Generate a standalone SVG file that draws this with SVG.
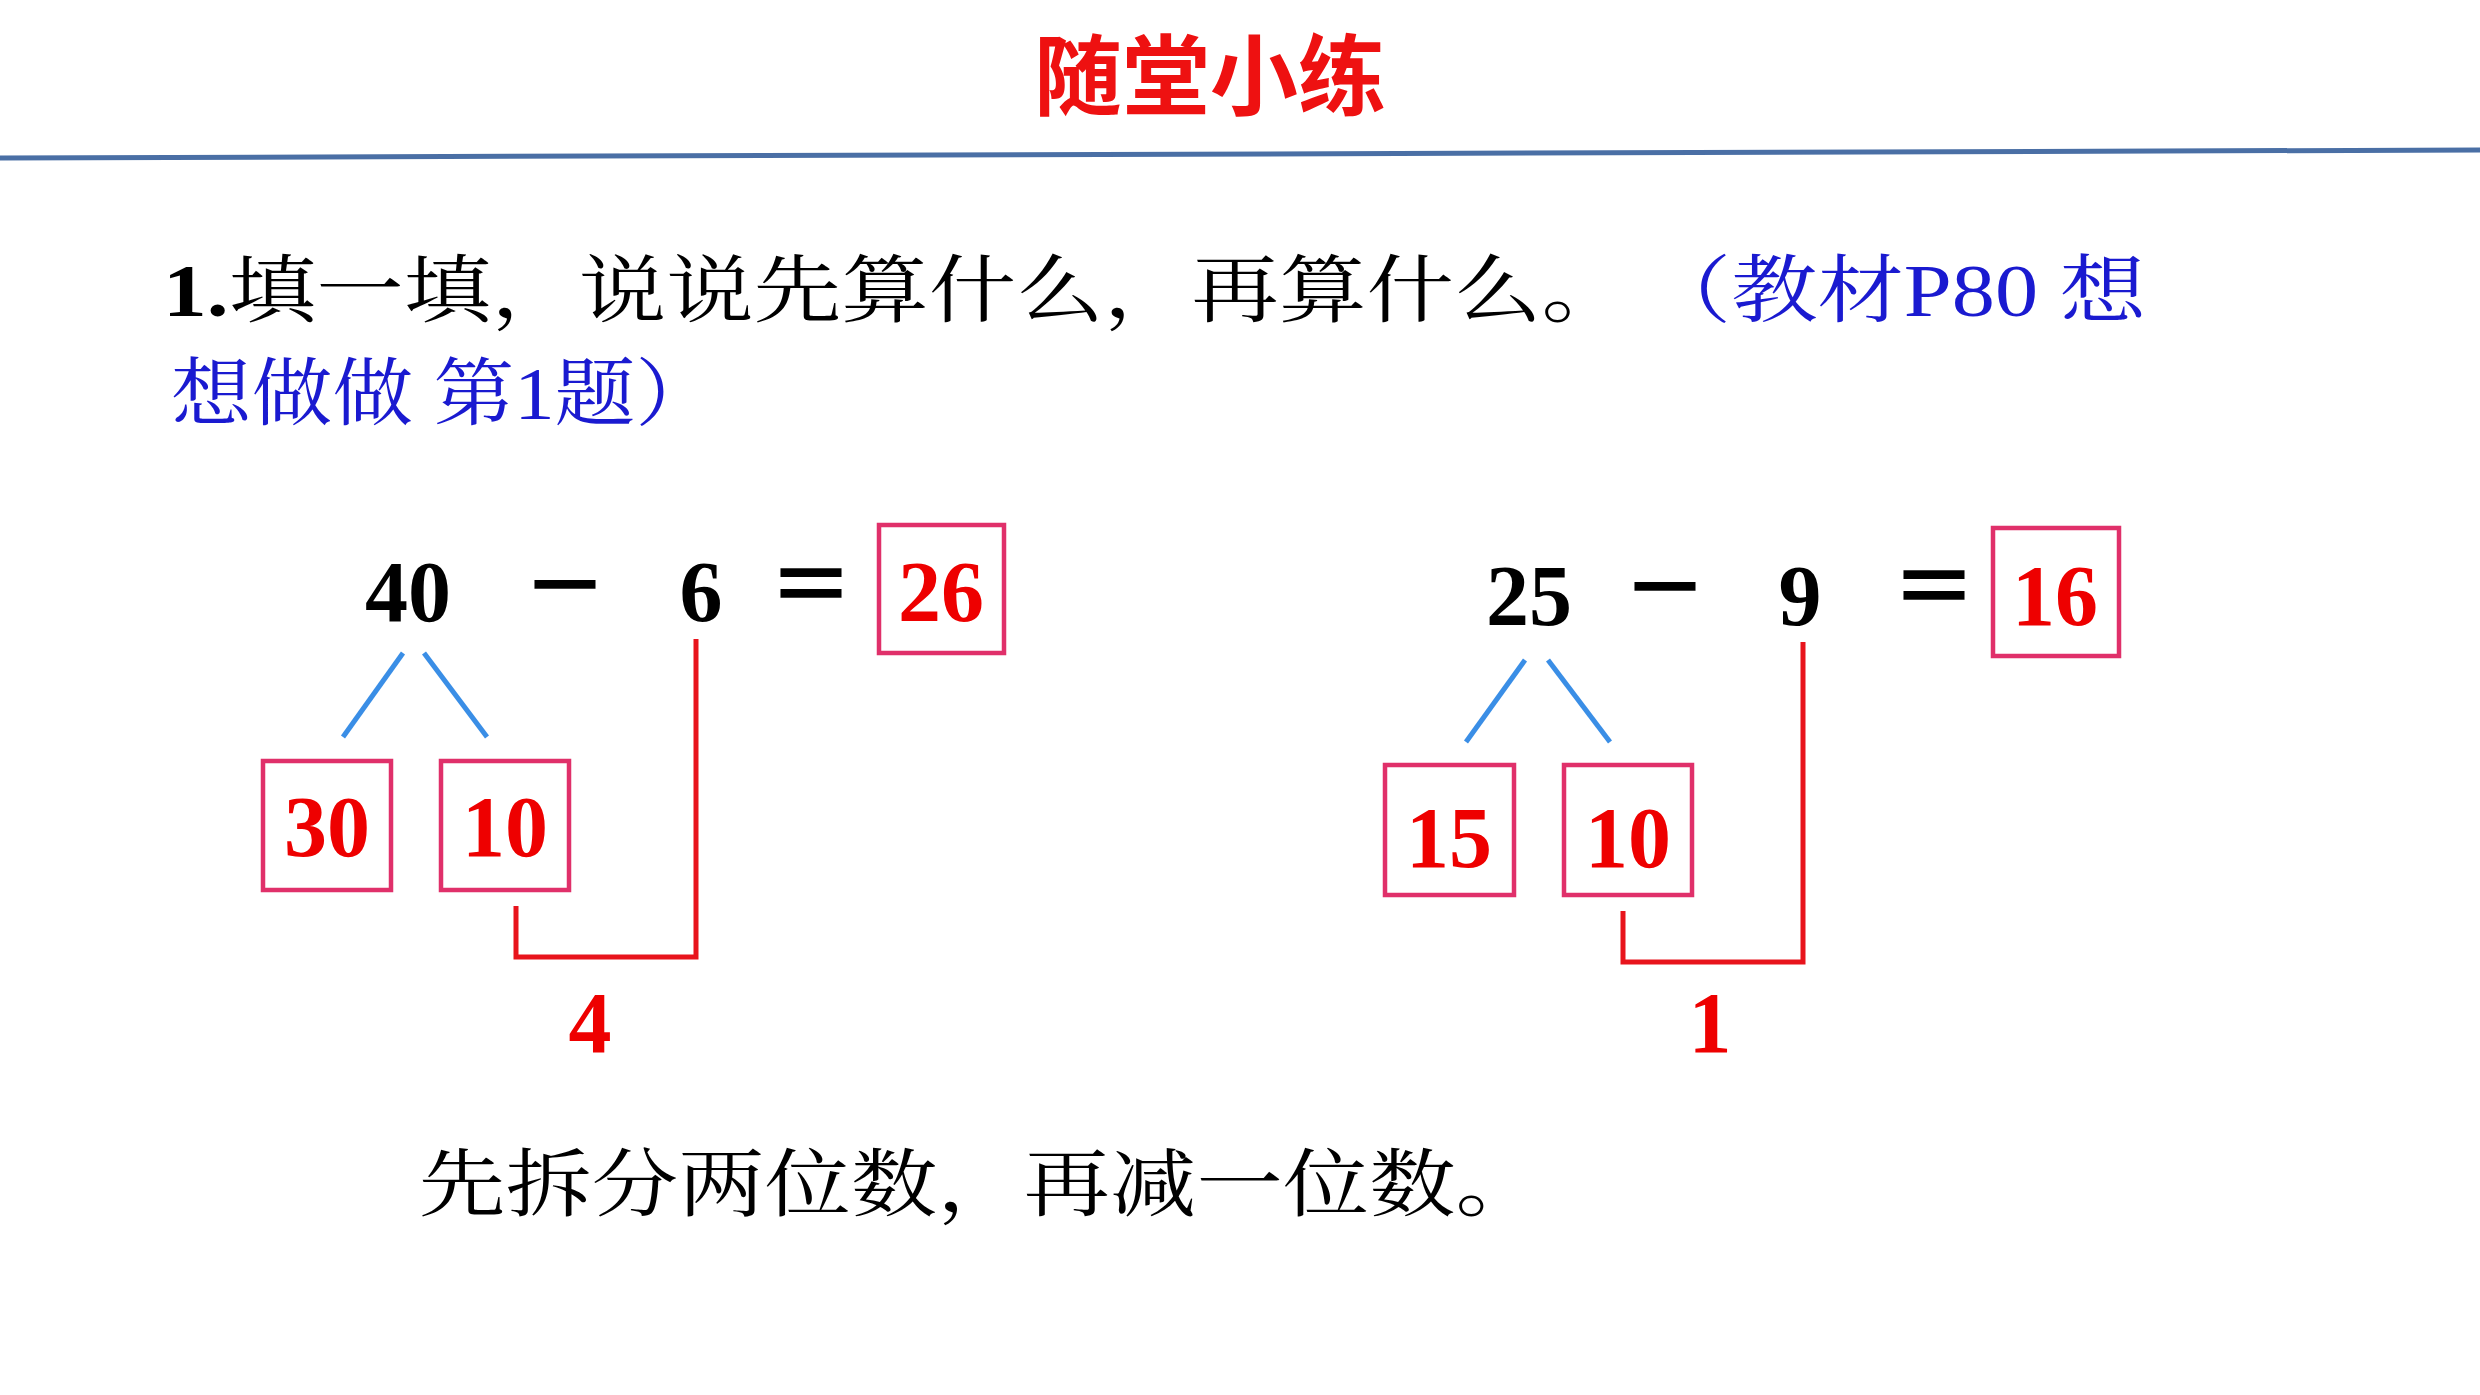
<svg xmlns="http://www.w3.org/2000/svg" width="2480" height="1395" viewBox="0 0 2480 1395">
<style>
.cn{font-family:"Liberation Serif","Noto Serif CJK SC","Noto Sans CJK SC",serif;font-size:74px}
.eq{font-family:"Liberation Serif","Noto Sans CJK SC",serif;font-size:86px;font-weight:bold;text-anchor:middle}
.ans{fill:#ee0000}
.box{fill:none;stroke:#e0306a;stroke-width:4.5}
.blue{stroke:#3a8ee6;stroke-width:5;fill:none}
.br{stroke:#e8141c;stroke-width:5;fill:none}
</style>
<rect width="2480" height="1395" fill="#fff"/>
<g id="title"><text x="1210" y="108" font-family="Noto Sans CJK SC,sans-serif" font-size="88" font-weight="bold" fill="#ee1111" text-anchor="middle">随堂小练</text>
<line x1="0" y1="158" x2="2480" y2="150" stroke="#4a6fa5" stroke-width="5"/></g>
<g id="question">
<text class="cn" x="163" y="316" textLength="1466" lengthAdjust="spacingAndGlyphs"><tspan font-weight="bold">1.</tspan>填一填，说说先算什么，再算什么。</text>
<text class="cn" x="1645" y="316" fill="#1a1ad0" textLength="501" lengthAdjust="spacingAndGlyphs">（教材P80 想</text>
<text class="cn" x="171" y="419" fill="#1a1ad0" textLength="545" lengthAdjust="spacingAndGlyphs">想做做 第1题）</text>
</g>
<g id="eq1">
<text class="eq" x="408" y="621">40</text>
<text class="eq" x="565" y="617">－</text>
<text class="eq" x="701" y="621">6</text>
<text class="eq" x="811" y="617">＝</text>
<rect class="box" x="879" y="525" width="125" height="128"/>
<text class="eq ans" x="941" y="621">26</text>
<rect class="box" x="263" y="761" width="128" height="129"/>
<text class="eq ans" x="327" y="856">30</text>
<rect class="box" x="441" y="761" width="128" height="129"/>
<text class="eq ans" x="505" y="856">10</text>
<text class="eq ans" x="590" y="1052">4</text>
</g>
<g id="eq2">
<text class="eq" x="1529" y="625">25</text>
<text class="eq" x="1665" y="619">－</text>
<text class="eq" x="1800" y="625">9</text>
<text class="eq" x="1934" y="619">＝</text>
<rect class="box" x="1993" y="528" width="126" height="128"/>
<text class="eq ans" x="2055" y="625">16</text>
<rect class="box" x="1385" y="765" width="129" height="130"/>
<text class="eq ans" x="1449" y="867">15</text>
<rect class="box" x="1564" y="765" width="128" height="130"/>
<text class="eq ans" x="1628" y="867">10</text>
<text class="eq ans" x="1710" y="1052">1</text>
</g>
<g id="connectors">
<line class="blue" x1="403" y1="653" x2="343" y2="737"/>
<line class="blue" x1="424" y1="653" x2="487" y2="737"/>
<polyline class="br" points="516,906 516,957 696,957 696,639"/>
<line class="blue" x1="1525" y1="660" x2="1466" y2="742"/>
<line class="blue" x1="1548" y1="660" x2="1610" y2="742"/>
<polyline class="br" points="1623,911 1623,962 1803,962 1803,642"/>
</g>
<g id="summary"><text class="cn" x="419" y="1210" textLength="1123" lengthAdjust="spacingAndGlyphs">先拆分两位数，再减一位数。</text></g>
</svg>
